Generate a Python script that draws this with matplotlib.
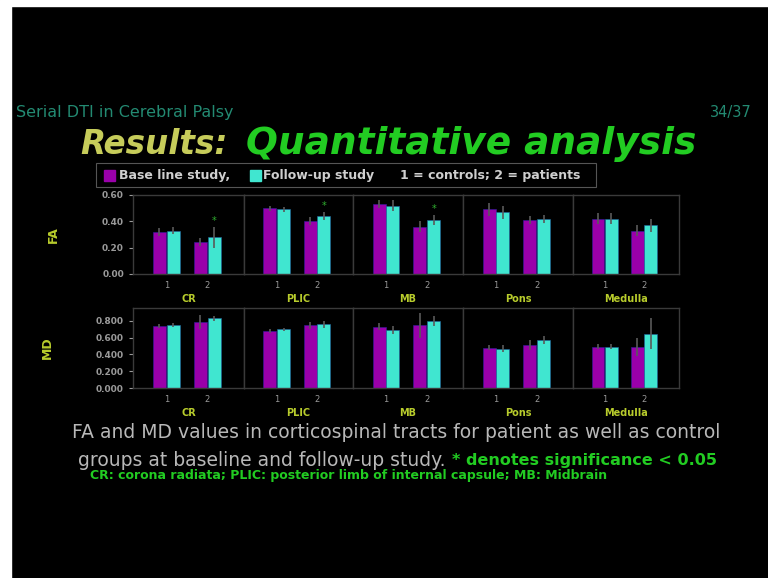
import matplotlib.pyplot as plt
from matplotlib.patches import Rectangle
import numpy as np

regions = ['CR', 'PLIC', 'MB', 'Pons', 'Medulla']
groups = ['1', '2']

# FA: [region][group] for baseline and follow-up
fa_base = [[0.32, 0.24], [0.50, 0.40], [0.53, 0.36], [0.49, 0.41], [0.42, 0.33]]
fa_follow = [[0.33, 0.28], [0.49, 0.44], [0.52, 0.41], [0.47, 0.42], [0.42, 0.37]]
fa_base_err = [[0.03, 0.03], [0.02, 0.03], [0.03, 0.04], [0.05, 0.03], [0.04, 0.04]]
fa_follow_err = [[0.03, 0.08], [0.02, 0.03], [0.04, 0.04], [0.05, 0.03], [0.04, 0.05]]
fa_star = [[False, True], [False, True], [False, True], [False, False], [False, False]]

# MD
md_base = [[0.74, 0.79], [0.68, 0.75], [0.73, 0.75], [0.48, 0.51], [0.49, 0.49]]
md_follow = [[0.75, 0.83], [0.70, 0.76], [0.69, 0.80], [0.47, 0.57], [0.49, 0.65]]
md_base_err = [[0.02, 0.08], [0.02, 0.04], [0.04, 0.15], [0.03, 0.06], [0.03, 0.11]]
md_follow_err = [[0.02, 0.03], [0.02, 0.04], [0.05, 0.06], [0.04, 0.05], [0.03, 0.19]]

magenta = '#9a00aa'
cyan = '#40e6d0'
frame = '#3a3a3a'
label_col = '#b8cc2c'
tick_col = '#9a9a9a'

fig = plt.figure(figsize=(7.68, 5.78), dpi=100, facecolor='black')
W, H = 768.0, 578.0

# white margins of the scanned slide
fig.patches.append(Rectangle((0, 0), 11 / W, 1, transform=fig.transFigure, color='white', zorder=0))
fig.patches.append(Rectangle((0, 1 - 6 / H), 1, 6 / H, transform=fig.transFigure, color='white', zorder=0))

fig.text(16 / W, 1 - 113 / H, 'Serial DTI in Cerebral Palsy', color='#238a72', fontsize=11.5,
         ha='left', va='center')
fig.text(752 / W, 1 - 113 / H, '34/37', color='#238a72', fontsize=10.5,
         ha='right', va='center')
fig.text(80 / W, 1 - 144 / H, 'Results:', color='#c6cc5a', fontsize=23.5,
         ha='left', va='center', fontweight='bold', style='italic')
fig.text(246 / W, 1 - 144 / H, 'Quantitative analysis', color='#22cc22', fontsize=27,
         ha='left', va='center', fontweight='bold', style='italic')

# legend strip
fig.patches.append(Rectangle((96 / W, 1 - 187 / H), 500 / W, 24 / H, transform=fig.transFigure,
                             facecolor='black', edgecolor='#555555', lw=0.8))
fig.patches.append(Rectangle((104 / W, 1 - 181 / H), 11 / W, 11 / H, transform=fig.transFigure,
                             color=magenta))
fig.text(119 / W, 1 - 175 / H, 'Base line study,', color='#cfcfcf', fontsize=9,
         fontweight='bold', va='center')
fig.patches.append(Rectangle((250 / W, 1 - 181 / H), 11 / W, 11 / H, transform=fig.transFigure,
                             color=cyan))
fig.text(263 / W, 1 - 175 / H, 'Follow-up study', color='#cfcfcf', fontsize=9,
         fontweight='bold', va='center')
fig.text(400 / W, 1 - 175 / H, '1 = controls; 2 = patients', color='#cfcfcf', fontsize=9,
         fontweight='bold', va='center')

edges = [133, 244, 353, 463, 573, 679]
rows = [
    (195, 274, 0.6, [0.0, 0.2, 0.4, 0.6], fa_base, fa_follow, fa_base_err, fa_follow_err, fa_star, 'FA'),
    (308, 388, 0.955, [0.0, 0.2, 0.4, 0.6, 0.8], md_base, md_follow, md_base_err, md_follow_err, None, 'MD'),
]

x = np.arange(1, 3)
bw = 0.32
for top, bottom, ymax, yticks, base, follow, berr, ferr, stars, ylab in rows:
    for i, reg in enumerate(regions):
        ax = fig.add_axes([edges[i] / W, 1 - bottom / H, (edges[i + 1] - edges[i]) / W, (bottom - top) / H])
        ax.set_facecolor('black')
        ax.bar(x - bw / 2 - 0.01, base[i], bw, color=magenta, edgecolor='#3020a0', lw=0.4,
               yerr=berr[i], ecolor='#5a5a5a', capsize=0, error_kw={'lw': 1.2})
        ax.bar(x + bw / 2 + 0.01, follow[i], bw, color=cyan, edgecolor='#2060a0', lw=0.4,
               yerr=ferr[i], ecolor='#5a5a5a', capsize=0, error_kw={'lw': 1.2})
        if stars is not None:
            for j in range(2):
                if stars[i][j]:
                    ax.text(x[j] + bw / 2 + 0.01, follow[i][j] + ferr[i][j] + 0.005, '*',
                            color='#30b030', ha='center', va='bottom', fontsize=7)
        ax.set_xlim(0.19, 2.89)
        ax.set_ylim(0, ymax)
        ax.set_xticks(x)
        ax.set_xticklabels(groups, color=tick_col, fontsize=6)
        for s in ax.spines.values():
            s.set_color(frame)
            s.set_linewidth(1.0)
        ax.tick_params(axis='x', length=0, pad=5)
        if i == 0:
            ax.set_yticks(yticks)
            fmt = '%.2f' if ylab == 'FA' else '%.3f'
            ax.set_yticklabels([fmt % v for v in yticks], color=tick_col, fontsize=6.5, fontweight='bold')
            ax.tick_params(axis='y', length=3, color=tick_col)
            ax.set_ylabel(ylab, color=label_col, fontsize=9, fontweight='bold', labelpad=30)
        else:
            ax.set_yticks([])
        ax.set_xlabel(reg, color=label_col, fontsize=7, fontweight='bold', labelpad=3)

fig.text(396 / W, 1 - 433 / H, 'FA and MD values in corticospinal tracts for patient as well as control',
         color='#b8b8b8', fontsize=13.5, ha='center', va='center')
fig.text(78 / W, 1 - 460 / H, 'groups at baseline and follow-up study.', color='#b8b8b8',
         fontsize=13.5, ha='left', va='center')
fig.text(452 / W, 1 - 460 / H, '* denotes significance < 0.05', color='#22cc22',
         fontsize=11.5, ha='left', va='center', fontweight='bold')
fig.text(90 / W, 1 - 476 / H, 'CR: corona radiata; PLIC: posterior limb of internal capsule; MB: Midbrain',
         color='#22cc22', fontsize=9, ha='left', va='center', fontweight='bold')

fig.savefig('out.png', dpi=100, facecolor='black')
